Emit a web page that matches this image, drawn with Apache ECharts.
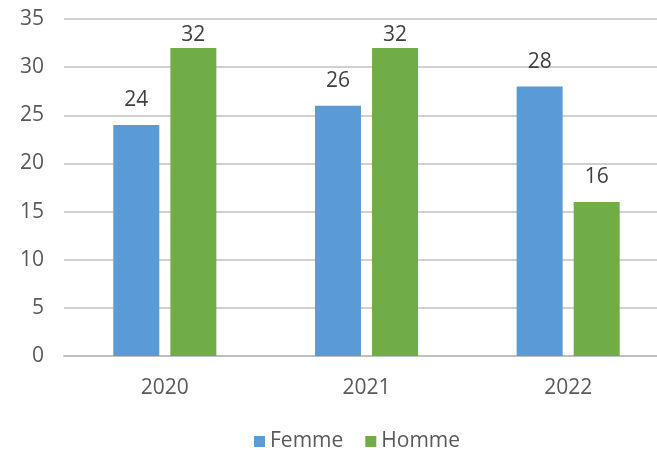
<!DOCTYPE html>
<html>
<head>
<meta charset="utf-8">
<script src="https://cdn.jsdelivr.net/npm/echarts@6/dist/echarts.min.js"></script>
<style>
  html, body { margin: 0; padding: 0; background: #fff; overflow: hidden; width: 657px; height: 450px; }
  /* the plot area runs slightly past the right edge of the page */
  #chart { width: 680px; height: 450px; }
</style>
</head>
<body>
<div id="chart"></div>
<script>
// Effectifs par année et par sexe
const years = ['2020', '2021', '2022'];
const femme = [24, 26, 28];
const homme = [32, 32, 16];
const yTicks = { min: 0, max: 35, interval: 5 };

const FONT = '"Open Sans", sans-serif';
const TEXT = '#595959';

// Keep value labels inside the plot when a bar nearly reaches the top
function withLabels(values) {
  return values.map(v => ({
    value: v,
    label: { distance: Math.max(2, Math.min(14, (yTicks.max - v) * 9.6 - 26)) }
  }));
}

function barSeries(name, values, color) {
  return {
    name: name,
    type: 'bar',
    data: withLabels(values),
    barWidth: 46,
    barGap: '24%',
    itemStyle: { color: color },
    label: {
      show: true,
      position: 'top',
      color: '#404040',
      fontFamily: FONT,
      fontSize: 21
    }
  };
}

const chart = echarts.init(document.getElementById('chart'), null, { renderer: 'canvas' });
chart.setOption({
  animation: false,
  textStyle: { fontFamily: FONT },
  grid: { left: 64, top: 19, width: 605, height: 337, containLabel: false },
  legend: {
    top: 426,
    left: 249,
    itemWidth: 11,
    itemHeight: 11,
    itemGap: 22,
    icon: 'rect',
    textStyle: { color: TEXT, fontFamily: FONT, fontSize: 21 },
    data: ['Femme', 'Homme']
  },
  xAxis: {
    type: 'category',
    data: years,
    axisTick: { show: false },
    axisLine: { lineStyle: { color: '#bfbfbf', width: 2 } },
    axisLabel: { color: TEXT, fontFamily: FONT, fontSize: 21, margin: 22 }
  },
  yAxis: {
    type: 'value',
    min: yTicks.min,
    max: yTicks.max,
    interval: yTicks.interval,
    axisLine: { show: false },
    axisTick: { show: false },
    splitLine: { lineStyle: { color: '#d0d0d0', width: 2 } },
    axisLabel: { color: TEXT, fontFamily: FONT, fontSize: 21, margin: 20 }
  },
  series: [
    barSeries('Femme', femme, '#5B9BD5'),
    barSeries('Homme', homme, '#70AD47')
  ]
});
</script>
</body>
</html>
